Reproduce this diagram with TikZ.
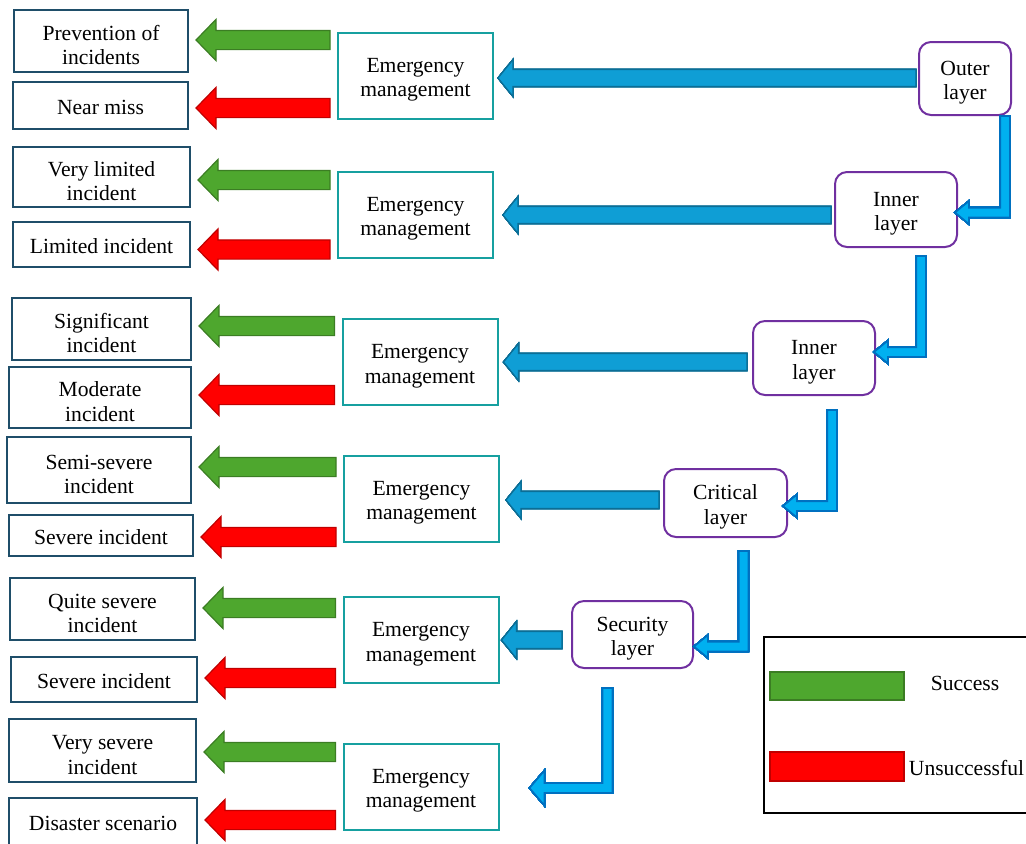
\documentclass[tikz,border=0pt]{standalone}
\usepackage{fontspec}
\setmainfont{Liberation Serif}
\usepackage{tikz}
\usetikzlibrary{positioning,calc}
\definecolor{boxnavy}{RGB}{31,78,105}
\definecolor{emteal}{RGB}{22,160,160}
\definecolor{layerpurple}{RGB}{112,48,160}
\definecolor{okgreen}{RGB}{78,167,46}
\definecolor{okgreendark}{RGB}{59,125,35}
\definecolor{failred}{RGB}{255,0,0}
\definecolor{failreddark}{RGB}{192,0,0}
\definecolor{flowblue}{RGB}{15,158,213}
\definecolor{flowbluedark}{RGB}{11,110,150}
\definecolor{stepblue}{RGB}{0,176,240}
\definecolor{stepbluedark}{RGB}{0,112,192}
\newcommand{\blockarrow}[6]{\filldraw[#1] let \p1=#2,\p2=#3 in (\x1,\y1+#4)--(\x2+#6,\y1+#4)--(\x2+#6,\y1+#5)--(\x2,\y1)--(\x2+#6,\y1-#5)--(\x2+#6,\y1-#4)--(\x1,\y1-#4)--cycle;}
\newcommand{\elbowarrow}[6]{\filldraw[#1] let \p1=#2,\p2=#3 in (\x1-#4,\y1)--(\x1+#4,\y1)--(\x1+#4,\y2-#4)--(\x2+#6,\y2-#4)--(\x2+#6,\y2-#5)--(\x2,\y2)--(\x2+#6,\y2+#5)--(\x2+#6,\y2+#4)--(\x1-#4,\y2+#4)--cycle;}

\begin{document}
\begin{tikzpicture}[x=0.5pt,y=-0.5pt,font=\fontsize{10.8}{12.2}\selectfont,
	outcome/.style={draw=boxnavy,line width=1pt,align=center,inner sep=0pt},
	oneline/.style={text height=8.9pt,text depth=0pt},
	twoline/.style={text height=23.5pt,text depth=0pt},
	emgbox/.style={draw=emteal,line width=1pt,align=center,inner sep=0pt,minimum width=77.5pt,minimum height=43pt,text height=21pt,text depth=0pt},
	layerbox/.style={draw=layerpurple,line width=1pt,rounded corners=6pt,align=center,inner sep=0pt,text height=21pt,text depth=0pt},
	okarrow/.style={fill=okgreen,draw=okgreendark,line width=0.6pt},
	failarrow/.style={fill=failred,draw=failreddark,line width=0.6pt},
	flowarrow/.style={fill=flowblue,draw=flowbluedark,line width=0.6pt},
	steparrow/.style={fill=stepblue,draw=stepbluedark,line width=0.8pt}]
	\useasboundingbox (0,0) rectangle (1026,843);
	\clip (0,0) rectangle (1026,843);
	\foreach \n/\cx/\cy/\w/\h/\s/\t in {p1/101/41/174/62/twoline/{Prevention of\\incidents},n1/100.5/105.5/175/47/oneline/{Near miss},
		p2/101.5/177/177/60/twoline/{Very limited\\incident},n2/101.5/244.5/177/45/oneline/{Limited incident},
		p3/101.5/329/179/62/twoline/{Significant\\incident},n3/100/397.5/182/61/twoline/{Moderate\\incident},
		p4/99/470/184/66/twoline/{Semi-severe\\incident},n4/101/535.5/184/41/oneline/{Severe incident},
		p5/102.5/609/185/62/twoline/{Quite severe\\incident},n5/104/679.5/186/45/oneline/{Severe incident},
		p6/102.5/750.5/187/63/twoline/{Very severe\\incident},n6/103/822/188/48/oneline/{Disaster scenario}}
		\node[outcome,\s,minimum width=\w*0.5pt,minimum height=\h*0.5pt] (\n) at (\cx,\cy) {\t};
	\foreach \n/\cx/\cy in {em1/415.5/75.5,em2/415.5/214.5,em3/420/362,em4/421.5/498.5,em5/421/640,em6/421/786.5}
		\node[emgbox] (\n) at (\cx,\cy) {Emergency\\management};
	\foreach \n/\cx/\cy/\w/\h/\t in {outer/965/78.5/92/73/{Outer\\layer},inner1/896/209.5/122/75/{Inner\\layer},
		inner2/814/358/122/74/{Inner\\layer},critical/725.5/503/123/68/{Critical\\layer},security/632.5/634.5/121/67/{Security\\layer}}
		\node[layerbox,minimum width=\w*0.5pt,minimum height=\h*0.5pt] (\n) at (\cx,\cy) {\t};
	\foreach \src/\tgt/\dy/\col in {em1/p1/-1/okarrow,em1/n1/2.5/failarrow,em2/p2/3/okarrow,em2/n2/5/failarrow,
		em3/p3/-3/okarrow,em3/n3/-2.5/failarrow,em4/p4/-3/okarrow,em4/n4/1.5/failarrow,
		em5/p5/-1/okarrow,em5/n5/-1.5/failarrow,em6/p6/1.5/okarrow,em6/n6/-2/failarrow}
		\blockarrow{\col}{($(\src.west |- \tgt.east)+(-7,\dy)$)}{($(\tgt.east)+(7,0)$)}{4.8pt}{10.3pt}{10pt}
	\foreach \src/\tgt/\gs/\gt/\dy in {outer/em1/-2/4/-0.5,inner1/em2/-3/9/5.5,inner2/em3/-5/5/4,critical/em4/-4/6/-3,security/em5/-9/2/5.5}
		\blockarrow{flowarrow}{($(\src.west)+(\gs,\dy)$)}{($(\tgt.east)+(\gt,0)$)}{4.25pt}{9.25pt}{7.5pt}
	\elbowarrow{steparrow}{($(outer.south east)+(-7,0)$)}{($(inner1.east)+(-3,3)$)}{2.4pt}{5.75pt}{7pt}
	\elbowarrow{steparrow}{($(inner1.south)+(25,8)$)}{($(inner2.east)+(-2,-6)$)}{2.4pt}{5.75pt}{7pt}
	\elbowarrow{steparrow}{($(inner2.south)+(18,14)$)}{($(critical.east)+(-5,3)$)}{2.4pt}{5.75pt}{7pt}
	\elbowarrow{steparrow}{($(critical.south)+(18,13)$)}{($(security.east)+(0,12)$)}{2.4pt}{5.75pt}{7pt}
	\elbowarrow{steparrow}{($(security.south)+(-25,19)$)}{($(em6.east)+(30,1.5)$)}{2.5pt}{8.75pt}{7.5pt}
	\node[draw,line width=1.2pt,minimum width=133pt,minimum height=88pt,inner sep=0pt] (legend) at (897,725) {};
	\node[okarrow,minimum width=67pt,minimum height=14pt,inner sep=0pt] (okkey) at (837,686) {};
	\node[failarrow,minimum width=67pt,minimum height=14.5pt,inner sep=0pt] (failkey) at (837,766.5) {};
	\node (oktext) at (965,683) {Success};
	\node (failtext) at (966.5,768) {Unsuccessful};
\end{tikzpicture}
\end{document}
